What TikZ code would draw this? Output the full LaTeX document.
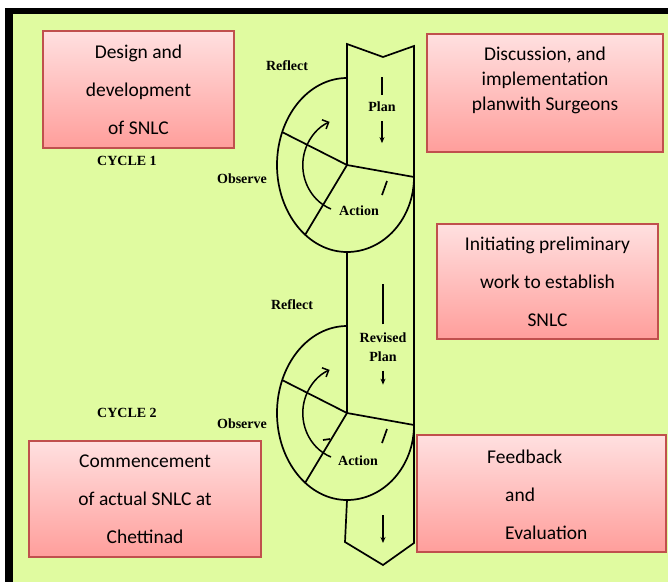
\documentclass[tikz,border=0pt]{standalone}
\usepackage{fontspec}
\setmainfont{Liberation Serif}
\newfontfamily\boxfont{Carlito}
\usetikzlibrary{arrows.meta}
\definecolor{pagegreen}{RGB}{224,251,160}
\definecolor{boxred}{RGB}{192,80,77}
\definecolor{boxtop}{RGB}{255,224,224}
\definecolor{boxbottom}{RGB}{255,158,155}
\tikzset{
    cycle diagram/.style = {x=1pt, y=-1pt, >={Stealth[length=6pt,width=5pt]}},
    box/.style         = {draw=boxred, line width=1.2pt,
                          top color=boxtop, bottom color=boxbottom,
                          align=center, inner sep=0pt,
                          font=\boxfont\fontsize{19.5}{38}\selectfont},
    boxtext/.style     = {align=center, inner sep=0pt,
                          font=\boxfont\fontsize{19.5}{25}\selectfont},
    stage/.style       = {inner sep=0pt, align=center,
                          font=\bfseries\fontsize{14}{19}\selectfont},
    band/.style        = {line width=1.7pt, line join=miter},
    ring/.style        = {line width=1.7pt},
    bar/.style         = {line width=2.4pt},
    flow/.style        = {line width=1.6pt, ->},
    turn/.style        = {line width=1.5pt,
                          -{Straight Barb[length=5pt,width=10pt]}}
}
\def\ringrx{70pt}
\def\ringry{87pt}

\begin{document}
\begin{tikzpicture}[cycle diagram]
\useasboundingbox (0,0) rectangle (668,582);
\fill[white] (0,0) rectangle (668,582);
\fill[pagegreen] (13,14) rectangle (668,582);
\fill[black] (5,8) rectangle (13,582);
\fill[black] (5,8) rectangle (668,14);

\node[box,minimum width=191pt,minimum height=117pt] (design) at (138.5,89.5)
    {Design and\\development\\of SNLC};
\node[box,minimum width=236pt,minimum height=118pt] (discuss) at (545,93) {};
\node[boxtext,anchor=north] (discusstext) at ([yshift=-13pt]discuss.north)
    {Discussion, and\\implementation\\planwith Surgeons};
\node[box,minimum width=221pt,minimum height=115pt] (initiate) at (547.5,281.5)
    {Initiating preliminary\\work to establish\\SNLC};
\node[box,minimum width=249pt,minimum height=117pt] (feedback) at (541.5,493.5) {};
\node[boxtext,align=left,anchor=west,font=\boxfont\fontsize{19.5}{38}\selectfont]
    (feedbacktext) at (487,495) {Feedback\\\hspace*{18pt}and\\\hspace*{18pt}Evaluation};
\node[box,minimum width=232pt,minimum height=116pt] (commence) at (145,499)
    {Commencement\\of actual SNLC at\\Chettinad};

\foreach \cy/\n in {165/1,413/2} {
    \coordinate (hub\n) at (347,\cy);
    \draw[ring] (347,\cy-87) arc[start angle=90,end angle=270,x radius=\ringrx,y radius=\ringry]
        arc[start angle=270,end angle=360,x radius=67pt,y radius=75pt];
    \draw[ring] (282,\cy-33) -- (hub\n) -- (414,\cy+12);
    \draw[ring] (hub\n) -- (305,\cy+70);
    \draw[turn] (331,\cy+44) arc[start angle=249,end angle=113,x radius=44pt,y radius=47pt];
    \draw[ring] (382,\cy+30) -- (387,\cy+16);
}
\draw[ring] (323,440) -- (330,439);

\draw[band] (hub1) -- (347,44) -- (383,57) -- (414,46) -- (414,543)
    -- (383,565) -- (345,542) -- (347,500);
\draw[band] (347,252) -- (hub2);

\node[stage] (plan) at (382,107) {Plan};
\draw[bar] ([yshift=7pt]plan.north) -- ++(0,-18);
\draw[flow] ([yshift=-9pt]plan.south) -- ++(0,22);
\node[stage] (revised) at (383,347) {Revised\\Plan};
\draw[bar] ([yshift=8pt]revised.north) -- ++(0,-40);
\draw[flow] ([yshift=-9pt]revised.south) -- ++(0,14);
\coordinate (outlet) at (383,543);
\draw[flow] (383,515) -- (outlet);

\node[stage] (reflect1) at (287,66) {Reflect};
\node[stage] (observe1) at (242,179) {Observe};
\node[stage] (action1) at (359,211) {Action};
\node[stage] (cycle1) at (127,161) {CYCLE 1};
\node[stage] (reflect2) at (292,305) {Reflect};
\node[stage] (observe2) at (242,424) {Observe};
\node[stage] (action2) at (358,461) {Action};
\node[stage] (cycle2) at (127,413) {CYCLE 2};
\end{tikzpicture}
\end{document}
